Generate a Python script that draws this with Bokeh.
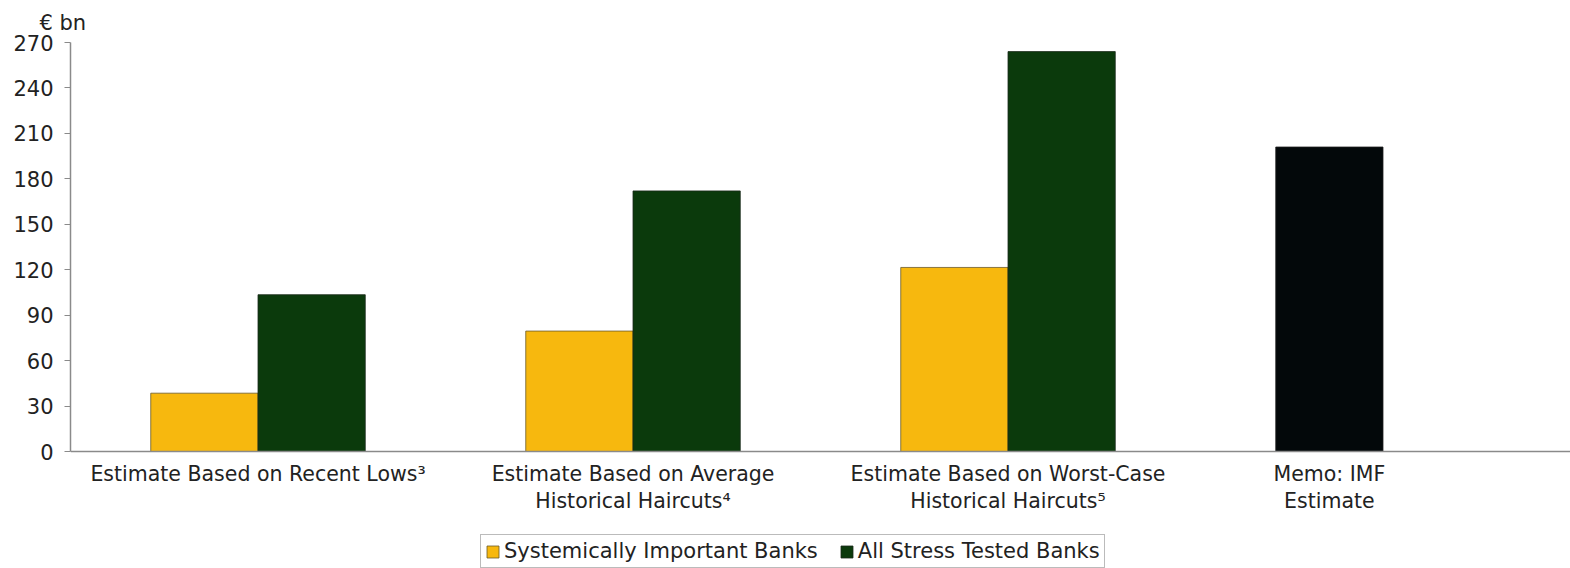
from bokeh.plotting import figure
from bokeh.models import Range1d, FixedTicker, Legend, LegendItem, Title, Span
from bokeh.core.properties import value
from bokeh.embed import file_html
from bokeh.resources import INLINE

categories = ["Estimate Based on Recent Lows\u00b3",
              "Estimate Based on Average\nHistorical Haircuts\u2074",
              "Estimate Based on Worst-Case\nHistorical Haircuts\u2075",
              "Memo: IMF\nEstimate"]
systemic = [38.5, 79.5, 121.5]
all_banks = [103.5, 172, 264]
imf_estimate = [201]
y_ticks = [0, 30, 60, 90, 120, 150, 180, 210, 240, 270]

FONT = "DejaVu Sans"
W = 0.286
Y_MAX = 270
PLOT_PX = 409      # pixels from 0 to Y_MAX
BELOW_PX = 117     # pixels below the zero line

p = figure(width=1570, height=568, output_backend="svg", toolbar_location=None,
           x_range=Range1d(-0.5, 3.5),
           y_range=Range1d(-Y_MAX * BELOW_PX / PLOT_PX, Y_MAX),
           min_border_left=70, min_border_right=0, min_border_top=42, min_border_bottom=0)
p.grid.visible = False
p.outline_line_color = None
p.background_fill_color = "white"
p.border_fill_color = "white"
p.xaxis.visible = False

xs_sys = [i - W / 2 for i in range(len(systemic))]
xs_all = [i + W / 2 for i in range(len(all_banks))]
xs_imf = [3 - W / 2 for _ in imf_estimate]

r1 = p.vbar(x=xs_sys, top=systemic, width=W, fill_color="#F7B80E", line_color="#6b5a2a", line_width=0.8)
r2 = p.vbar(x=xs_all, top=all_banks, width=W, fill_color="#0B3A0C", line_color="#1a2a1a", line_width=0.8)
p.vbar(x=xs_imf, top=imf_estimate, width=W, fill_color="#03080A", line_color="#202020", line_width=0.8)

# category axis line and labels
p.add_layout(Span(location=0, dimension="width", line_color="#8a8a8a", line_width=1.5))
tick_pos = [0, 1, 2, 3 - W / 2]
p.text(x=tick_pos, y=[0] * len(tick_pos), text=categories, text_align="center",
       text_baseline="top", y_offset=10, text_font=value(FONT), text_font_size="20.5px",
       text_line_height=1.15, text_color="#222222")

p.yaxis.ticker = FixedTicker(ticks=y_ticks)
p.yaxis.bounds = (0, Y_MAX)
p.yaxis.axis_line_color = "#8a8a8a"
p.yaxis.axis_line_width = 1.5
p.yaxis.major_tick_line_color = "#8a8a8a"
p.yaxis.major_tick_out = 6
p.yaxis.major_tick_in = 0
p.yaxis.minor_tick_line_color = None
p.yaxis.major_label_text_font = FONT
p.yaxis.major_label_text_font_size = "21px"
p.yaxis.major_label_text_color = "#222222"
p.yaxis.major_label_standoff = 11

title = Title(text="\u20ac bn", align="left", offset=-31, standoff=16, text_font=FONT,
              text_font_size="21px", text_font_style="normal", text_color="#222222")
p.add_layout(title, "above")

legend = Legend(items=[LegendItem(label="Systemically Important Banks", renderers=[r1]),
                       LegendItem(label="All Stress Tested Banks", renderers=[r2])],
                orientation="horizontal", location=(410, 0),
                label_text_font=FONT, label_text_font_size="21px", label_text_color="#222222",
                label_height=20,
                glyph_width=15, glyph_height=15, spacing=21, label_standoff=4,
                padding=4, margin=0, border_line_color="#777777",
                background_fill_alpha=1)
p.add_layout(legend, "center")

open("out.html", "w").write(file_html(p, INLINE))
